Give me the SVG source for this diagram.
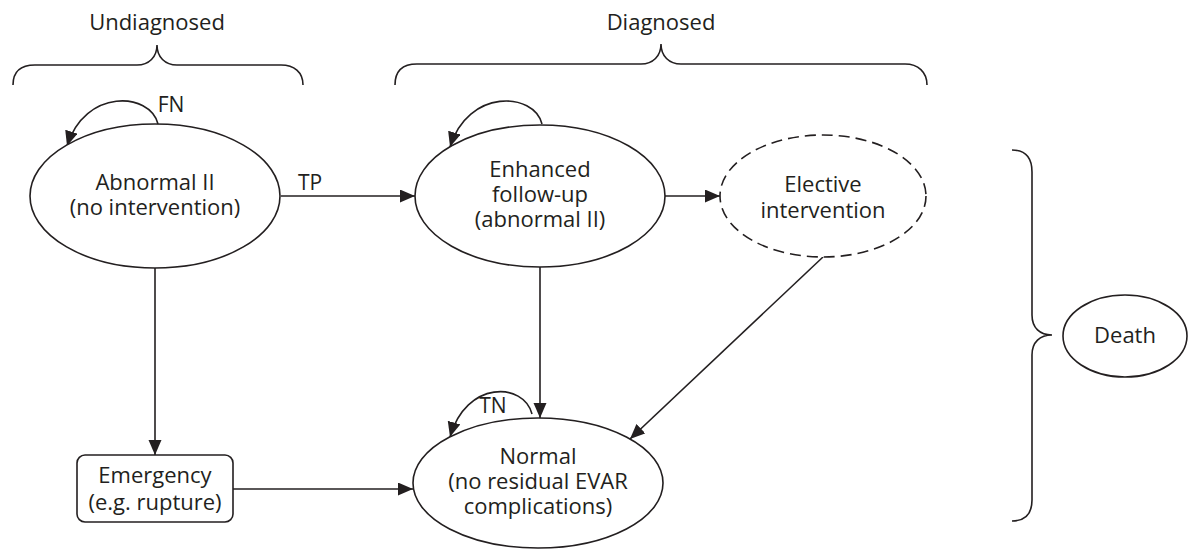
<svg xmlns="http://www.w3.org/2000/svg" width="1189" height="557" viewBox="0 0 1189 557">
<style>
.shape{fill:#fff;stroke:#231f20;stroke-width:1.6}
.dash{stroke-dasharray:11 6}
.line{fill:none;stroke:#231f20;stroke-width:1.6}
.arr{marker-end:url(#ah)}
text{font-family:"Open Sans","Noto Sans",sans-serif;font-size:22px;fill:#231f20;text-anchor:middle}
.lbl{font-size:21px}
</style>
<defs>
<marker id="ah" markerUnits="userSpaceOnUse" markerWidth="16" markerHeight="14" refX="15" refY="6.5" orient="auto">
<path d="M0,0 L15,6.5 L0,13 z" fill="#231f20"/>
</marker>
</defs>
<g id="braces">
<text x="157" y="30">Undiagnosed</text>
<path class="line" d="M13,85 C13,72 20,65 35,65 L137,65 C149,65 157,57 157,45 C157,57 165,65 177,65 L281,65 C294,65 303,72 303,85"/>
<text x="661" y="30">Diagnosed</text>
<path class="line" d="M395,85 C395,72 402,64 417,64 L641,64 C653,64 661,56 661,44 C661,56 669,64 681,64 L905,64 C918,64 927,72 927,85"/>
<path class="line" d="M1012,150 C1025,150 1032,157 1032,172 L1032,315 C1032,328 1040,335 1052,335 C1040,335 1032,342 1032,355 L1032,500 C1032,514 1025,521 1012,521"/>
</g>
<g id="connectors">
<path class="line arr" d="M158,124 C150,92 85,88 67,146"/>
<path class="line arr" d="M542,124 C534,92 468,88 450,147"/>
<path class="line arr" d="M532,414 C524,382 466,380 450,437"/>
<path class="line arr" d="M281,196 L415,196"/>
<path class="line arr" d="M665,196 L720,196"/>
<path class="line arr" d="M155,268 L155,455"/>
<path class="line arr" d="M540,267 L540,418"/>
<path class="line arr" d="M823,257 L630,439"/>
<path class="line arr" d="M233,489 L413,489"/>
<text class="lbl" x="171" y="112">FN</text>
<text class="lbl" x="310" y="190">TP</text>
<text class="lbl" x="493" y="413">TN</text>
</g>
<g id="abnormal">
<ellipse class="shape" cx="155" cy="196" rx="125" ry="72"/>
<text x="155" y="190">Abnormal II</text>
<text x="155" y="215">(no intervention)</text>
</g>
<g id="enhanced">
<ellipse class="shape" cx="540" cy="196" rx="125" ry="71"/>
<text x="540" y="177">Enhanced</text>
<text x="540" y="202">follow-up</text>
<text x="540" y="227">(abnormal II)</text>
</g>
<g id="elective">
<ellipse class="shape dash" cx="823" cy="196" rx="103" ry="61"/>
<text x="823" y="192">Elective</text>
<text x="823" y="218">intervention</text>
</g>
<g id="emergency">
<rect class="shape" x="77" y="455" width="156" height="67" rx="8"/>
<text x="155" y="483">Emergency</text>
<text x="155" y="510">(e.g. rupture)</text>
</g>
<g id="normal">
<ellipse class="shape" cx="538" cy="483" rx="125" ry="65"/>
<text x="538" y="464">Normal</text>
<text x="538" y="489">(no residual EVAR</text>
<text x="538" y="514">complications)</text>
</g>
<g id="death">
<ellipse class="shape" cx="1125" cy="336" rx="62" ry="41"/>
<text x="1125" y="343">Death</text>
</g>
</svg>
